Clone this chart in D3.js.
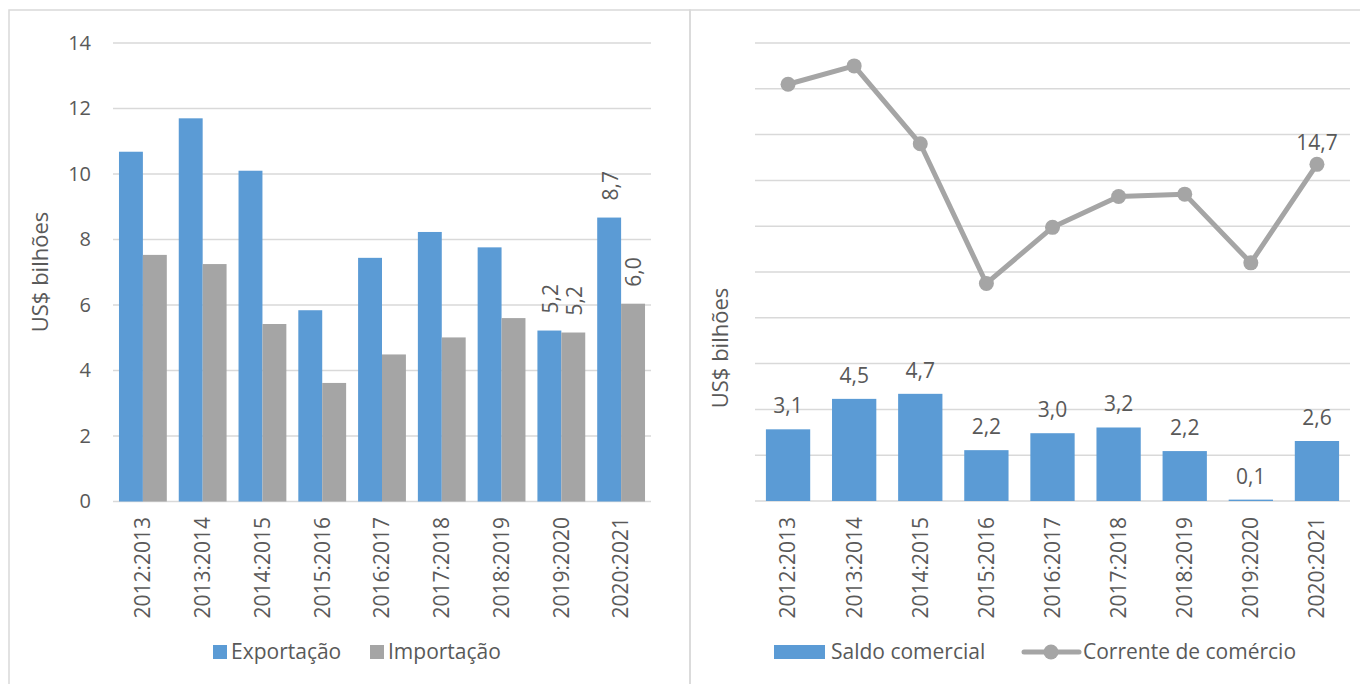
<!DOCTYPE html>
<html lang="pt">
  <head>
    <meta charset="utf-8">
    <title>Comércio</title>
    <script src="https://d3js.org/d3.v7.min.js"></script>
    <style>
    body { margin: 0; background: #fff; }
    svg text { font-family: "Open Sans", sans-serif; fill: #595959; }
    .grid line { stroke: #d9d9d9; stroke-width: 1.5; }
    </style>
  </head>
  <body>
    <svg width="1360" height="684" id="svg"></svg>
    <script>

    // dados
    var categorias = ["2012:2013", "2013:2014", "2014:2015", "2015:2016", "2016:2017",
                      "2017:2018", "2018:2019", "2019:2020", "2020:2021"];
    var exportacao = [10.68, 11.70, 10.10, 5.84, 7.44, 8.23, 7.76, 5.22, 8.67];
    var importacao = [7.53, 7.25, 5.42, 3.62, 4.49, 5.01, 5.60, 5.16, 6.04];
    var saldo      = [3.13, 4.46, 4.68, 2.22, 2.96, 3.21, 2.18, 0.06, 2.62];
    var corrente   = [18.2, 19.0, 15.6, 9.5, 11.95, 13.3, 13.4, 10.4, 14.7];
    var ticksEsq   = [0, 2, 4, 6, 8, 10, 12, 14];
    var ticksDir   = [0, 2, 4, 6, 8, 10, 12, 14, 16, 18, 20];
    var rotulosEsq = [7, 8];   // categorias com rótulo no gráfico da esquerda
    var rotulosLinha = [8];

    var azul = "#5b9bd5", cinza = "#a5a5a5";
    var fmt = function(v) { return v.toFixed(1).replace(".", ","); };

    var svg = d3.select("svg");

    // molduras
    svg.append("rect").attr("x", 9).attr("y", 10).attr("width", 681).attr("height", 690)
        .attr("fill", "none").attr("stroke", "#d9d9d9").attr("stroke-width", 1.5);
    svg.append("rect").attr("x", 690).attr("y", 10).attr("width", 700).attr("height", 690)
        .attr("fill", "none").attr("stroke", "#d9d9d9").attr("stroke-width", 1.5);

    // ---------- gráfico da esquerda ----------
    var x1 = d3.scaleBand().domain(categorias).range([113, 651]).paddingInner(0.2).paddingOuter(0.1),
        y1 = d3.scaleLinear().domain([0, 14]).range([501.5, 43]);
    var serie = d3.scaleBand().domain([0, 1]).range([0, x1.bandwidth()]);

    svg.append("g").attr("class", "grid")
      .selectAll("line").data(ticksEsq).enter().append("line")
        .attr("x1", 113).attr("x2", 651)
        .attr("y1", function(d) { return y1(d); })
        .attr("y2", function(d) { return y1(d); });

    svg.append("g")
        .attr("transform", "translate(91,0)")
        .call(d3.axisLeft(y1).tickValues(ticksEsq).tickSize(0).tickPadding(0))
        .call(function(g) { g.select(".domain").remove(); })
        .selectAll("text").style("font-size", "20px").attr("fill", "#595959");

    var grupos = svg.append("g").selectAll("g")
      .data(categorias).enter().append("g")
        .attr("transform", function(d) { return "translate(" + x1(d) + ",0)"; });

    grupos.append("rect")
        .attr("x", serie(0)).attr("width", serie.bandwidth())
        .attr("y", function(d, i) { return y1(exportacao[i]); })
        .attr("height", function(d, i) { return y1(0) - y1(exportacao[i]); })
        .attr("fill", azul);
    grupos.append("rect")
        .attr("x", serie(1)).attr("width", serie.bandwidth())
        .attr("y", function(d, i) { return y1(importacao[i]); })
        .attr("height", function(d, i) { return y1(0) - y1(importacao[i]); })
        .attr("fill", cinza);

    rotulosEsq.forEach(function(i) {
      [exportacao, importacao].forEach(function(s, k) {
        var cx = x1(categorias[i]) + serie(k) + serie.bandwidth() / 2 + 1;
        svg.append("text")
            .attr("transform", "translate(" + cx + "," + (y1(s[i]) - 17) + ") rotate(-90)")
            .attr("dy", "0.35em")
            .style("font-size", "21px")
            .text(fmt(s[i]));
      });
    });

    svg.append("g").selectAll("text")
      .data(categorias).enter().append("text")
        .attr("transform", function(d) { return "translate(" + (x1(d) + x1.bandwidth() / 2) + ",517) rotate(-90)"; })
        .attr("text-anchor", "end").attr("dy", "0.35em")
        .style("font-size", "21px")
        .text(function(d) { return d; });

    svg.append("text")
        .attr("transform", "translate(40,272) rotate(-90)")
        .attr("text-anchor", "middle").attr("dy", "0.35em")
        .style("font-size", "22px")
        .text("US$ bilhões");

    var leg1 = svg.append("g");
    leg1.append("rect").attr("x", 213).attr("y", 645).attr("width", 14).attr("height", 14).attr("fill", azul);
    leg1.append("text").attr("x", 231).attr("y", 652).attr("dy", "0.35em").style("font-size", "21px").text("Exportação");
    leg1.append("rect").attr("x", 370).attr("y", 645).attr("width", 14).attr("height", 14).attr("fill", cinza);
    leg1.append("text").attr("x", 388).attr("y", 652).attr("dy", "0.35em").style("font-size", "21px").text("Importação");

    // ---------- gráfico da direita ----------
    var x2 = d3.scaleBand().domain(categorias).range([755, 1350]).paddingInner(0.33).paddingOuter(0.165),
        y2 = d3.scaleLinear().domain([0, 20]).range([501, 43]);

    svg.append("g").attr("class", "grid")
      .selectAll("line").data(ticksDir).enter().append("line")
        .attr("x1", 755).attr("x2", 1350)
        .attr("y1", function(d) { return y2(d); })
        .attr("y2", function(d) { return y2(d); });

    svg.append("g").selectAll("rect")
      .data(saldo).enter().append("rect")
        .attr("x", function(d, i) { return x2(categorias[i]); })
        .attr("width", x2.bandwidth())
        .attr("y", function(d) { return y2(d); })
        .attr("height", function(d) { return y2(0) - y2(d); })
        .attr("fill", azul);

    svg.append("g").selectAll("text")
      .data(saldo).enter().append("text")
        .attr("x", function(d, i) { return x2(categorias[i]) + x2.bandwidth() / 2; })
        .attr("y", function(d) { return y2(d) - 16; })
        .attr("text-anchor", "middle")
        .style("font-size", "21px")
        .text(fmt);

    var linha = d3.line()
        .x(function(d, i) { return x2(categorias[i]) + x2.bandwidth() / 2; })
        .y(function(d) { return y2(d); });

    svg.append("path").datum(corrente)
        .attr("d", linha)
        .attr("fill", "none").attr("stroke", cinza).attr("stroke-width", 5)
        .attr("stroke-linejoin", "round");

    svg.append("g").selectAll("circle")
      .data(corrente).enter().append("circle")
        .attr("cx", function(d, i) { return x2(categorias[i]) + x2.bandwidth() / 2; })
        .attr("cy", function(d) { return y2(d); })
        .attr("r", 7.5)
        .attr("fill", cinza);

    rotulosLinha.forEach(function(i) {
      svg.append("text")
          .attr("x", x2(categorias[i]) + x2.bandwidth() / 2)
          .attr("y", y2(corrente[i]) - 14)
          .attr("text-anchor", "middle")
          .style("font-size", "21px")
          .text(fmt(corrente[i]));
    });

    svg.append("g").selectAll("text")
      .data(categorias).enter().append("text")
        .attr("transform", function(d) { return "translate(" + (x2(d) + x2.bandwidth() / 2) + ",517) rotate(-90)"; })
        .attr("text-anchor", "end").attr("dy", "0.35em")
        .style("font-size", "21px")
        .text(function(d) { return d; });

    svg.append("text")
        .attr("transform", "translate(720,348) rotate(-90)")
        .attr("text-anchor", "middle").attr("dy", "0.35em")
        .style("font-size", "22px")
        .text("US$ bilhões");

    var leg2 = svg.append("g");
    leg2.append("rect").attr("x", 774).attr("y", 645).attr("width", 51).attr("height", 14).attr("fill", azul);
    leg2.append("text").attr("x", 831).attr("y", 652).attr("dy", "0.35em").style("font-size", "21px").text("Saldo comercial");
    leg2.append("line").attr("x1", 1024).attr("x2", 1079).attr("y1", 652).attr("y2", 652)
        .attr("stroke", cinza).attr("stroke-width", 5).attr("stroke-linecap", "round");
    leg2.append("circle").attr("cx", 1051).attr("cy", 652).attr("r", 7.5).attr("fill", cinza);
    leg2.append("text").attr("x", 1083).attr("y", 652).attr("dy", "0.35em").style("font-size", "21px").text("Corrente de comércio");

    </script>
  </body>
</html>
